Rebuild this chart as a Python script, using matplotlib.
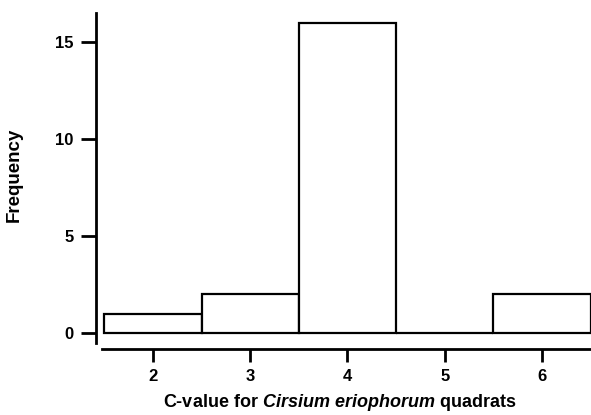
import numpy as np
import matplotlib
matplotlib.use("Agg")
import matplotlib.pyplot as plt

# C-value classes and counts
c_values = [2, 3, 4, 5, 6]
frequency = [1, 2, 16, 0, 2]
y_ticks = [0, 5, 10, 15]

plt.rcParams['font.family'] = 'Liberation Sans'
plt.rcParams['font.weight'] = 'bold'
plt.rcParams['mathtext.fontset'] = 'custom'
plt.rcParams['mathtext.it'] = 'Liberation Sans:italic:bold'
plt.rcParams['mathtext.rm'] = 'Liberation Sans:bold'

fig = plt.figure(figsize=(5.91, 4.15), dpi=100)
ax = fig.add_axes([96/591, 1 - 349/415, 495/591, 336/415])

ax.bar(c_values, frequency, width=1, color='white', edgecolor='black',
       linewidth=1.6, clip_on=False)

ax.set_xlim(1.414, 6.504)
ax.set_ylim(-0.825, 16.5)
ax.set_xticks(c_values)
ax.set_yticks(y_ticks)

ax.spines['top'].set_visible(False)
ax.spines['right'].set_visible(False)
ax.spines['left'].set_linewidth(2)
ax.spines['bottom'].set_linewidth(2)
ax.spines['left'].set_bounds(-0.52, 16.5)
ax.spines['bottom'].set_bounds(1.48, 6.504)

ax.tick_params(axis='y', length=11, width=2, pad=5, labelsize=12)
ax.tick_params(axis='x', length=9.5, width=2, pad=5, labelsize=12)

ax.set_ylabel('Frequency', fontsize=13.5, fontweight='bold')
ax.yaxis.set_label_coords(-0.147, 0.518)
ax.set_xlabel(r'C-value for $Cirsium\ eriophorum$ quadrats', fontsize=13,
              fontweight='bold')
ax.xaxis.set_label_coords(0.493, -0.128)

fig.savefig('out.png', dpi=100)
